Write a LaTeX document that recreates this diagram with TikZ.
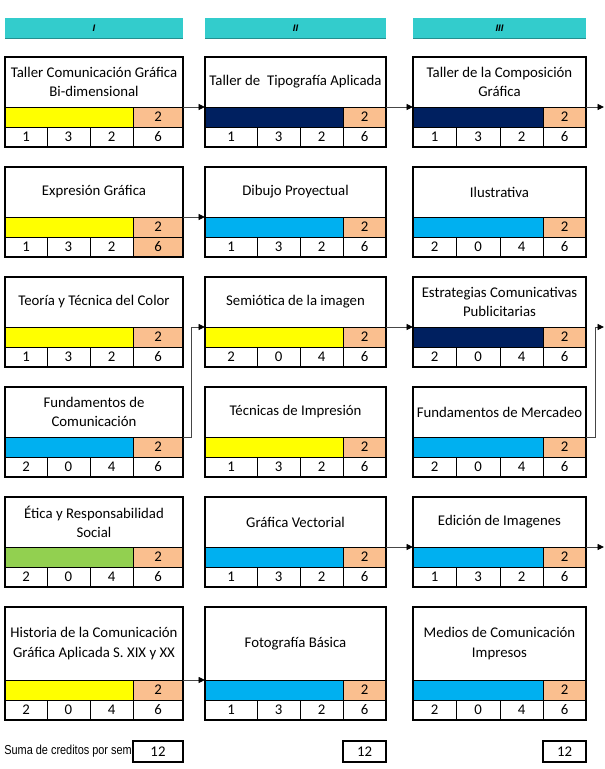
\documentclass[tikz,border=0pt]{standalone}
\usepackage{fontspec}
\setmainfont{Carlito}
\newfontfamily\arialf{Liberation Sans}
\usetikzlibrary{arrows.meta}
\definecolor{hdr}{RGB}{51,204,204}
\definecolor{ylw}{RGB}{255,255,0}
\definecolor{navy}{RGB}{0,32,96}
\definecolor{lblue}{RGB}{0,176,240}
\definecolor{orng}{RGB}{250,191,143}
\definecolor{grn}{RGB}{146,208,80}
\definecolor{conn}{RGB}{70,70,70}

\newcommand\setcol[5]{\def\xA{#1}\def\xB{#2}\def\xC{#3}\def\xD{#4}\def\xE{#5}}
\newcommand\ttlfont{\fontsize{14.8}{19.5}\selectfont}

\newcommand\card[9]{%
 \pgfmathsetmacro\tB{#2+#3}\pgfmathsetmacro\tC{\tB+20}\pgfmathsetmacro\tD{\tC+20}%
 \node[cell, fill=white, minimum width={\xE-\xA}, minimum height={#3}, align=center, font=\ttlfont] (#1) at ({(\xA+\xE)/2},{#2+#3/2}) {#5};
 \node[cell, fill=#4, minimum width={\xE-\xA}, minimum height=20] (#1-bar) at ({(\xA+\xE)/2},{\tB+10}) {};
 \node[cell, fill=orng, minimum width={\xE-\xD}, minimum height=20, font=\ttlfont] (#1-o) at ({(\xD+\xE)/2},{\tB+10}) {2};
 \node[cell, minimum width={\xB-\xA}, minimum height=20, font=\ttlfont] (#1-n1) at ({(\xA+\xB)/2},{\tC+10}) {#6};
 \node[cell, minimum width={\xC-\xB}, minimum height=20, font=\ttlfont] (#1-n2) at ({(\xB+\xC)/2},{\tC+10}) {#7};
 \node[cell, minimum width={\xD-\xC}, minimum height=20, font=\ttlfont] (#1-n3) at ({(\xC+\xD)/2},{\tC+10}) {#8};
 \node[cell, fill=#9, minimum width={\xE-\xD}, minimum height=20, font=\ttlfont] (#1-n4) at ({(\xD+\xE)/2},{\tC+10}) {6};
 \draw[frame] (#1.north west) rectangle (#1-n4.south east);
}

\tikzset{
 cell/.style={inner sep=0pt, outer sep=0pt, draw=black, line width=0.9pt, anchor=center},
 frame/.style={draw=black, line width=2.4pt},
 hdrbox/.style={inner sep=0pt, outer sep=0pt, fill=hdr, minimum height=20, font=\arialf\fontsize{9.5}{11}\selectfont\bfseries\itshape},
 sumbox/.style={inner sep=0pt, outer sep=0pt, draw=black, line width=2pt, fill=white, minimum height=21, font=\ttlfont},
 conn/.style={draw=conn, line width=0.9pt, -{Triangle[length=6.5pt,width=6pt,color=black]}}
}

\begin{document}
\begin{tikzpicture}[x=1pt,y=-1pt]
\useasboundingbox (0,0) rectangle (605,769);
\fill[white] (0,0) rectangle (605,769);

% headers
\node[hdrbox, minimum width=178] (h1) at (94,28) {I};
\node[hdrbox, minimum width=181] (h2) at (295.5,28) {II};
\node[hdrbox, minimum width=173] (h3) at (499.5,28) {III};
\foreach \h in {h1,h2,h3} \draw[hdr!70!black, line width=0.8pt] (\h.south west) -- (\h.south east);

% column 1
\setcol{5}{47}{90}{133}{183}
\card{c11}{57}{50}{ylw}{Taller Comunicación Gráfica\\Bi-dimensional}{1}{3}{2}{white}
\card{c12}{167}{50}{ylw}{Expresión Gráfica}{1}{3}{2}{orng}
\card{c13}{277}{50}{ylw}{Teoría y Técnica del Color}{1}{3}{2}{white}
\card{c14}{387}{50}{lblue}{Fundamentos de\\Comunicación}{2}{0}{4}{white}
\card{c15}{497}{50}{grn}{Ética y Responsabilidad\\Social}{2}{0}{4}{white}
\card{c16}{607}{73}{ylw}{Historia de la Comunicación\\Gráfica Aplicada S. XIX y XX}{2}{0}{4}{white}

% column 2
\setcol{205}{257}{300}{343}{386}
\card{c21}{57}{50}{navy}{Taller de~ Tipografía Aplicada}{1}{3}{2}{white}
\card{c22}{167}{50}{lblue}{Dibujo Proyectual}{1}{3}{2}{white}
\card{c23}{277}{50}{ylw}{Semiótica de la imagen}{2}{0}{4}{white}
\card{c24}{387}{50}{ylw}{Técnicas de Impresión}{1}{3}{2}{white}
\card{c25}{497}{50}{lblue}{Gráfica Vectorial}{1}{3}{2}{white}
\card{c26}{607}{73}{lblue}{Fotografía Básica}{1}{3}{2}{white}

% column 3
\setcol{413}{456}{500}{543}{586}
\card{c31}{57}{50}{navy}{Taller de la Composición\\Gráfica}{1}{3}{2}{white}
\card{c32}{167}{50}{lblue}{Ilustrativa}{2}{0}{4}{white}
\card{c33}{277}{50}{navy}{Estrategias Comunicativas\\Publicitarias}{2}{0}{4}{white}
\card{c34}{387}{50}{lblue}{Fundamentos de Mercadeo}{2}{0}{4}{white}
\card{c35}{497}{50}{lblue}{Edición de Imagenes}{1}{3}{2}{white}
\card{c36}{607}{73}{lblue}{Medios de Comunicación\\Impresos}{2}{0}{4}{white}

% sums
\node[sumbox, minimum width=50] (s1) at (158,751.5) {12};
\node[sumbox, minimum width=43] (s2) at (364.5,751.5) {12};
\node[sumbox, minimum width=43] (s3) at (564.5,751.5) {12};
\node[anchor=east, inner sep=0pt, font=\arialf\fontsize{13}{15}\selectfont] (sl) at ([xshift=-1pt]s1.west) {\scalebox{0.84}[1]{Suma de creditos por sem}};

% off-page ends
\coordinate (e1) at (604,107);
\coordinate (e2) at (604,327);
\coordinate (e3) at (604,547);

% connectors
\draw[conn] (c11-bar.north east) -- (c21-bar.north west);
\draw[conn] (c21-bar.north east) -- (c31-bar.north west);
\draw[conn] (c31-bar.north east) -- (e1);
\draw[conn] (c12-bar.north east) -- (c22-bar.north west);
\draw[conn] (c14-bar.north east) -- ++(8,0) |- (c23-bar.north west);
\draw[conn] (c23-bar.north east) -- (c33-bar.north west);
\draw[conn] (c34-bar.north east) -- ++(9,0) |- (e2);
\draw[conn] (c25-bar.north east) -- (c35-bar.north west);
\draw[conn] (c35-bar.north east) -- (e3);
\draw[conn] (c16-bar.north east) -- (c26-bar.north west);
\end{tikzpicture}
\end{document}
